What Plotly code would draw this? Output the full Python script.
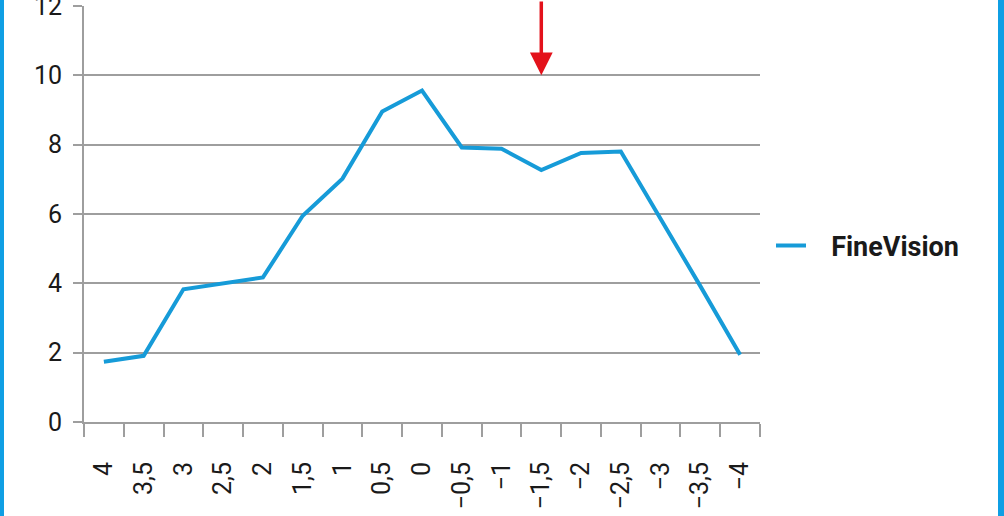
import plotly.graph_objects as go

categories = ["4", "3,5", "3", "2,5", "2", "1,5", "1", "0,5", "0",
              "−0,5", "−1", "−1,5", "−2", "−2,5", "−3", "−3,5", "−4"]
finevision = [1.74, 1.91, 3.83, 4.0, 4.17, 5.95, 7.02, 8.96, 9.56,
              7.92, 7.88, 7.27, 7.76, 7.80, 5.88, 3.92, 1.94]
y_ticks = [0, 2, 4, 6, 8, 10, 12]
arrow_category = "−1,5"
arrow_value = 10

W, H = 1004, 516
L, R, T, B = 84, 244, 6, 94
PW, PH = W - L - R, H - T - B

grid = "#9e9e9e"
blue = "#169bd8"
border = "#0f9fe4"

fig = go.Figure()
fig.add_trace(go.Scatter(
    x=categories, y=finevision, mode="lines",
    name="\u00a0\u00a0\u00a0FineVision",
    line=dict(color=blue, width=4),
))

fig.update_layout(
    width=W, height=H,
    margin=dict(l=L, r=R, t=T, b=B, autoexpand=False),
    paper_bgcolor="white", plot_bgcolor="white",
    font=dict(family="Roboto, DejaVu Sans", color="#1a1a1a", size=25),
    showlegend=True,
    legend=dict(
        x=(771 - L) / PW, y=(H - B - 246) / PH, xanchor="left", yanchor="middle",
        font=dict(size=27, family="Roboto, DejaVu Sans", weight="bold", color="#1a1a1a"),
        itemwidth=30, bgcolor="rgba(0,0,0,0)",
    ),
    xaxis=dict(
        type="category", categoryorder="array", categoryarray=categories,
        range=[-0.5, len(categories) - 0.5],
        showgrid=False, showline=True, linecolor=grid, linewidth=2,
        ticks="outside", tickson="boundaries", ticklen=13, tickwidth=2, tickcolor=grid,
        tickangle=-90, ticklabelstandoff=28, tickfont=dict(size=25),
        zeroline=False,
    ),
    yaxis=dict(
        range=[0, 12], tickvals=y_ticks, ticktext=[str(v) for v in y_ticks],
        showgrid=True, gridcolor=grid, gridwidth=2,
        showline=True, linecolor=grid, linewidth=2,
        ticks="outside", ticklen=9, tickwidth=2, tickcolor=grid,
        ticklabelstandoff=6, ticklabeloverflow="allow",
        tickfont=dict(size=25), zeroline=False,
    ),
)

fig.add_annotation(
    x=arrow_category, y=arrow_value, xref="x", yref="y",
    text="", showarrow=True, ax=0, ay=-(PH * arrow_value / 12 + T + 5),
    axref="pixel", ayref="pixel",
    arrowcolor="#e3121b", arrowwidth=3.5, arrowhead=2, arrowsize=1.3, standoff=0,
)

# blue frame edges
fig.add_shape(type="rect", xref="paper", yref="paper",
              x0=(-2 - L) / PW, x1=(4 - L) / PW, y0=-1, y1=2,
              fillcolor=border, line=dict(width=0), layer="above")
fig.add_shape(type="rect", xref="paper", yref="paper",
              x0=(998 - L) / PW, x1=(1006 - L) / PW, y0=-1, y1=2,
              fillcolor=border, line=dict(width=0), layer="above")

fig.write_html("out.html", config={"displayModeBar": False},
               post_script="document.body.style.margin='0';")
